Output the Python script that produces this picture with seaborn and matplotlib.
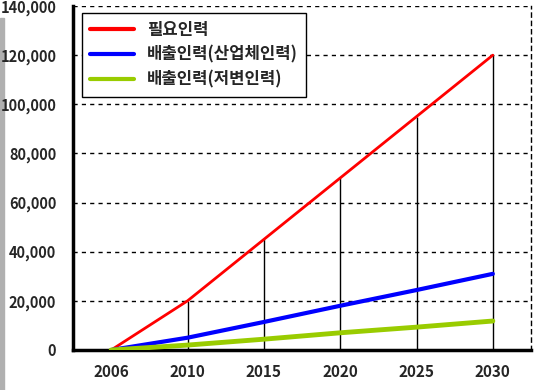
import matplotlib
matplotlib.use("Agg")
import matplotlib.pyplot as plt
from matplotlib.patches import Rectangle
import numpy as np
import pandas as pd
import seaborn as sns

years = ["2006", "2010", "2015", "2020", "2025", "2030"]
need = [0, 20000, 45000, 70000, 95000, 120000]
supply_industry = [0, 5000, 11400, 18000, 24400, 31000]
supply_base = [0, 2000, 4400, 7000, 9300, 11800]
series_names = ["필요인력", "배출인력(산업체인력)", "배출인력(저변인력)"]
series_colors = ["#FF0000", "#0000FF", "#99CC00"]
series_widths = [2.0, 3.0, 3.5]
y_ticks = [0, 20000, 40000, 60000, 80000, 100000, 120000, 140000]

df = pd.DataFrame({"year": years * 3,
                   "value": need + supply_industry + supply_base,
                   "series": sum([[n] * len(years) for n in series_names], [])})

sns.set_theme(style="white")
plt.rcParams["font.family"] = ["Noto Sans CJK KR", "DejaVu Sans"]
plt.rcParams["font.weight"] = "bold"

fig = plt.figure(figsize=(5.5, 3.9), dpi=100)
fig.patch.set_facecolor("white")
ax = fig.add_axes([73 / 550, 40 / 390, 458 / 550, 344 / 390])
ax.set_facecolor("white")

# drop lines from the 필요인력 points
xpos = np.arange(len(years))
ax.vlines(xpos[1:], 0, need[1:], color="black", lw=1.0, zorder=1)

for name, col, lw in zip(series_names, series_colors, series_widths):
    sns.lineplot(data=df[df["series"] == name], x="year", y="value",
                 color=col, lw=lw, label=name, ax=ax, zorder=3,
                 sort=False)

ax.set_xlim(-0.5, len(years) - 0.5)
ax.set_ylim(0, 140000)
ax.set_yticks(y_ticks)
ax.set_yticklabels([f"{v:,}" for v in y_ticks], fontsize=10.5, fontweight="bold")
ax.set_xticks(xpos)
ax.set_xticklabels(years, fontsize=11, fontweight="bold")
ax.set_xticks(np.arange(-0.5, len(years)), minor=True)
ax.tick_params(axis="x", which="major", length=0, pad=10)
ax.tick_params(axis="x", which="minor", direction="in", length=3, width=2)
ax.tick_params(axis="y", direction="in", length=3, width=2, pad=12)
ax.set_xlabel("")
ax.set_ylabel("")

for v in y_ticks[1:]:
    ax.axhline(v, color="black", lw=1.0, ls=(0, (3, 3)), zorder=0)
ax.spines["left"].set_linewidth(2.5)
ax.spines["bottom"].set_linewidth(2.5)
ax.spines["left"].set_color("black")
ax.spines["bottom"].set_color("black")
ax.spines["top"].set_visible(False)
ax.spines["right"].set_color("black")
ax.spines["right"].set_linewidth(1.0)
ax.spines["right"].set_linestyle((0, (3, 3)))

leg = ax.legend(loc="upper left", bbox_to_anchor=(0.02, 0.98), frameon=True,
                fancybox=False, framealpha=1, edgecolor="black",
                prop={"size": 12, "weight": "bold"},
                handlelength=2.6, labelspacing=0.4, borderpad=0.5,
                handletextpad=0.8, borderaxespad=0)
leg.get_frame().set_linewidth(1.0)
for h in leg.get_lines():
    h.set_linewidth(3)

fig.add_artist(Rectangle((0, 0), 4 / 550, 372 / 390, transform=fig.transFigure,
                         color="#B0B0B0", zorder=0))

fig.savefig("out.png", dpi=100)
